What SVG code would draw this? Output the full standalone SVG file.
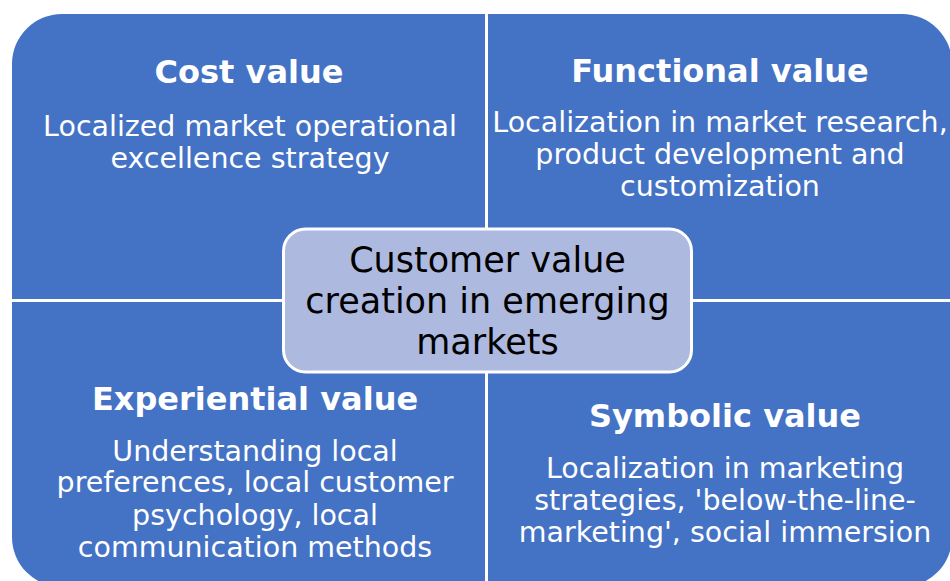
<svg xmlns="http://www.w3.org/2000/svg" width="950" height="581" viewBox="0 0 950 581">
<style>
.q{fill:#4472C4}
.t{font-family:"DejaVu Sans","Liberation Sans",sans-serif;font-weight:bold;font-size:32px;fill:#FFFFFF;text-anchor:middle}
.b{font-family:"DejaVu Sans","Liberation Sans",sans-serif;font-size:28.5px;fill:#FFFFFF;text-anchor:middle}
.c{font-family:"DejaVu Sans","Liberation Sans",sans-serif;font-size:35px;fill:#000000;text-anchor:middle}
</style>
<rect width="950" height="581" fill="#FFFFFF"/>
<g id="cost">
<path class="q" d="M12,299 L12,64 A50,50 0 0 1 62,14 L485,14 L485,299 Z"/>
<text class="t" x="249" y="83">Cost value</text>
<text class="b" x="250" y="135.5">Localized market operational</text>
<text class="b" x="250" y="167.5">excellence strategy</text>
</g>
<g id="functional">
<path class="q" d="M488,14 L902,14 A50,50 0 0 1 952,64 L952,299 L488,299 Z"/>
<text class="t" x="720" y="82">Functional value</text>
<text class="b" x="720" y="131.5">Localization in market research,</text>
<text class="b" x="720" y="163.5">product development and</text>
<text class="b" x="720" y="195.5">customization</text>
</g>
<g id="experiential">
<path class="q" d="M12,302 L485,302 L485,587 L62,587 A50,50 0 0 1 12,537 Z"/>
<text class="t" x="255" y="410">Experiential value</text>
<text class="b" x="255" y="460.5">Understanding local</text>
<text class="b" x="255" y="492">preferences, local customer</text>
<text class="b" x="255" y="524.5">psychology, local</text>
<text class="b" x="255" y="556.5">communication methods</text>
</g>
<g id="symbolic">
<path class="q" d="M488,302 L952,302 L952,537 A50,50 0 0 1 902,587 L488,587 Z"/>
<text class="t" x="725" y="426.5">Symbolic value</text>
<text class="b" x="725" y="477.5">Localization in marketing</text>
<text class="b" x="725" y="509.5">strategies, 'below-the-line-</text>
<text class="b" x="725" y="541.5">marketing', social immersion</text>
</g>
<g id="connectors"></g>
<g id="center">
<rect x="283.5" y="229" width="408" height="143" rx="22" ry="22" fill="#ADB9DF" stroke="#FFFFFF" stroke-width="3"/>
<text class="c" x="487.5" y="272">Customer value</text>
<text class="c" x="487.5" y="313">creation in emerging</text>
<text class="c" x="487.5" y="354">markets</text>
</g>
</svg>
